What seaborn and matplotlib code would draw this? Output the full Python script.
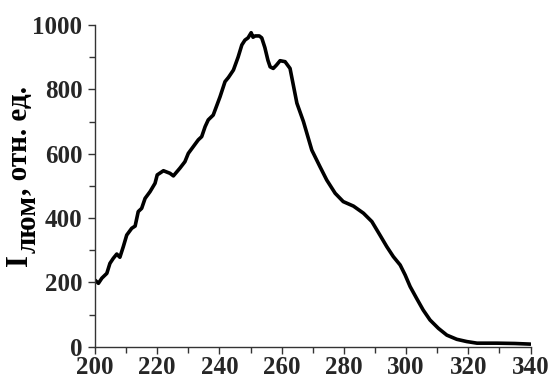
import matplotlib
matplotlib.use("Agg")
import matplotlib.pyplot as plt
from matplotlib.ticker import MultipleLocator
import seaborn as sns
import pandas as pd

wavelength = [200, 201.1, 202.2, 203.8, 204.8, 205.9, 207.0, 208.0, 209.1, 210.2,
              211.8, 212.9, 213.9, 215.0, 216.1, 217.7, 219.3, 220.0, 222.0, 224.1,
              225.2, 227.3, 228.9, 230.0, 231.6, 233.2, 234.3, 235.4, 236.4, 238.0,
              240.2, 241.8, 242.9, 244.5, 246.0, 247.2, 248.2, 249.2, 250.2, 250.8,
              251.5, 252.8, 253.6, 254.6, 255.6, 256.3, 257.3, 258.3, 259.5, 261.1,
              262.7, 264.9, 267.0, 269.7, 272.3, 274.5, 277.2, 279.8, 283.1, 286.3,
              289.0, 291.6, 293.8, 295.9, 298.1, 299.7, 301.3, 303.4, 305.5, 307.7,
              310.4, 313.1, 316.3, 319.5, 322.8, 329.2, 335, 340]
intensity = [207, 197, 213, 228, 259, 275, 288, 278, 311, 347,
             368, 375, 420, 430, 461, 482, 508, 534, 547, 539,
             531, 555, 575, 601, 622, 643, 653, 684, 705, 720,
             777, 824, 837, 860, 900, 938, 953, 960, 976, 962,
             966, 966, 960, 930, 890, 870, 865, 875, 889, 886,
             865, 757, 700, 611, 560, 518, 477, 451, 437, 415,
             389, 347, 311, 280, 254, 223, 187, 150, 114, 83,
             57, 36, 23, 16, 11, 11, 10, 8]

x_ticks = [200, 220, 240, 260, 280, 300, 320, 340]
y_ticks = [0, 200, 400, 600, 800, 1000]
label_main = "I"
label_sub = "люм"
label_rest = ", отн. ед."

sns.set_style("ticks")
plt.rcParams['font.family'] = ['Liberation Serif', 'DejaVu Serif']
plt.rcParams['font.weight'] = 'bold'

df = pd.DataFrame({"wl": wavelength, "I": intensity})

W, H = 552, 380
fig = plt.figure(figsize=(W/100, H/100), dpi=100)
ax = fig.add_axes([95/W, 1-346.7/H, (530.5-95)/W, (346.7-25)/H])
sns.lineplot(data=df, x="wl", y="I", ax=ax, color="black", lw=2.6, sort=False)

ax.set_xlim(200, 340)
ax.set_ylim(0, 1000)
ax.set_xticks(x_ticks)
ax.set_yticks(y_ticks)
ax.xaxis.set_minor_locator(MultipleLocator(10))
ax.yaxis.set_minor_locator(MultipleLocator(100))
ax.set_xticklabels([str(v) for v in x_ticks], fontsize=18, fontweight='bold')
ax.set_yticklabels([str(v) for v in y_ticks], fontsize=18, fontweight='bold')
ax.tick_params(which='major', length=5, width=1, color='#333333', pad=2)
ax.tick_params(which='minor', length=4, width=1, color='#333333')
ax.tick_params(axis='y', pad=4)
for s in ['top', 'right']:
    ax.spines[s].set_visible(False)
for s in ['left', 'bottom']:
    ax.spines[s].set_color('#333333')
    ax.spines[s].set_linewidth(1)
    ax.spines[s].set_clip_on(False)
ax.set_xlabel("")
ax.set_ylabel("")

# rotated y label built from pieces: I, subscript люм, then ", отн. ед."
fig.canvas.draw()
r = fig.canvas.get_renderer()
fs = 21
base_x = 27
start_y = 266
common = dict(rotation=90, rotation_mode='anchor', ha='left', va='baseline',
              fontweight='bold', color='black')
t1 = fig.text(base_x/W, 1-start_y/H, label_main, fontsize=fs + 1, **common)
bb = t1.get_window_extent(r)
t2 = fig.text((base_x + 9)/W, (bb.y1 + 1)/H, label_sub, fontsize=fs, **common)
bb = t2.get_window_extent(r)
t3 = fig.text(base_x/W, bb.y1/H, label_rest, fontsize=fs, **common)

fig.savefig("out.png", dpi=100)
